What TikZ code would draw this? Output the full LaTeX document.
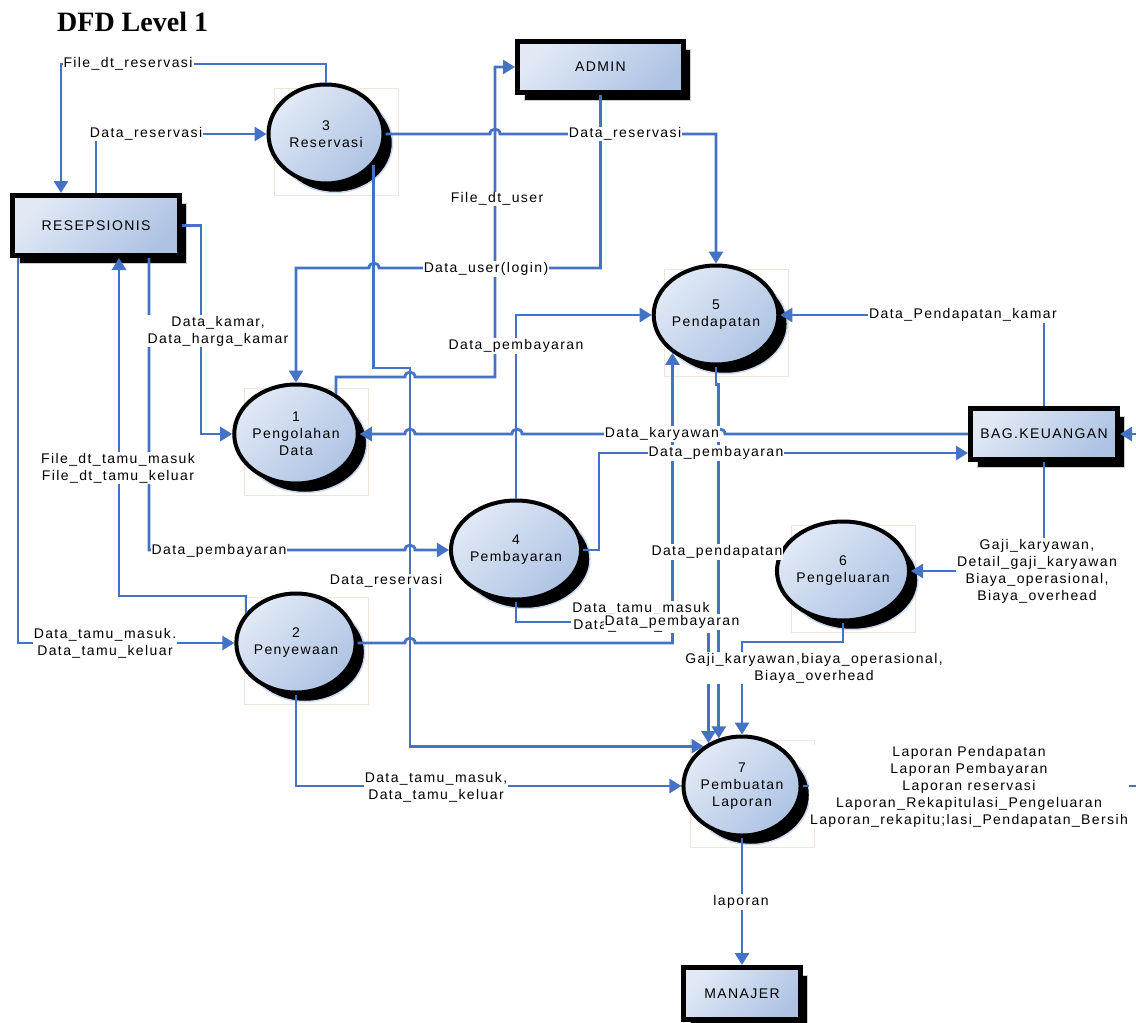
\documentclass[tikz,border=0pt]{standalone}
\usepackage{fontspec}
\setmainfont{Liberation Sans}[LetterSpace=10]
\newfontfamily\titlefont{Liberation Serif}
\usetikzlibrary{shapes.geometric,arrows.meta,shadows}
\definecolor{flow}{HTML}{4472C4}
\definecolor{fillA}{HTML}{E1E9F5}
\definecolor{fillB}{HTML}{AEC3E4}
\definecolor{halo}{HTML}{C9D8EE}
\definecolor{tanc}{HTML}{EFE6DA}
\begin{document}
\begin{tikzpicture}[x=1pt,y=-1pt,
  every node/.style={font=\fontsize{14}{17}\selectfont},
  proc/.style={ellipse, draw=black, line width=4pt, minimum width=115pt, minimum height=99pt,
    inner sep=0pt, align=center, top color=fillA, bottom color=fillB, shading angle=45,
    general shadow={fill=black, draw=halo, line width=1.5pt, shadow xshift=9pt, shadow yshift=-9pt}},
  ent/.style={rectangle, draw=black, line width=5pt, inner sep=0pt, top color=fillA,
    bottom color=fillB, shading angle=45,
    general shadow={fill=black, draw=black!20, line width=1pt, shadow xshift=7pt, shadow yshift=-8pt}},
  flowline/.style={draw=flow, line width=2.8pt, -{Triangle[length=12pt,width=14pt]}},
  lbl/.style={fill=white, inner sep=1pt, align=center},
  tanbox/.style={draw=tanc, line width=0.8pt}
]
\path[use as bounding box] (0,0) rectangle (1136,1023);
\clip (0,0) rectangle (1136,1023);

% faint frames of the process symbols
\foreach \cx/\cy in {326/134, 296/434, 296/643, 716/315, 843/571, 742/786}
  \draw[tanbox] ({\cx-52},{\cy-46}) rectangle ({\cx+72},{\cy+61});

% title
\node[font=\titlefont\bfseries\fontsize{28}{30}\selectfont, anchor=base west, inner sep=0pt] (title) at (57,31) {DFD Level 1};

% processes
\node[proc] (n3) at (326,134) {3\\Reservasi};
\node[proc] (n1) at (296,434) {1\\Pengolahan\\Data};
\node[proc] (n2) at (296,643) {2\\Penyewaan};
\node[proc] (n4) at (516,550) {4\\Pembayaran};
\node[proc] (n5) at (716,315) {5\\Pendapatan};
\node[proc] (n6) at (843,571) {6\\Pengeluaran};
\node[proc] (n7) at (742,786) {7\\Pembuatan\\Laporan};

% external entities
\node[ent, minimum width=167pt, minimum height=60pt] (R) at (96,225.5) {RESEPSIONIS};
\node[ent, minimum width=166pt, minimum height=51pt] (A) at (600.5,67) {ADMIN};
\node[ent, minimum width=147pt, minimum height=51pt] (B) at (1044,434) {BAG.KEUANGAN};
\node[ent, minimum width=117pt, minimum height=52pt] (M) at (742,993.5) {MANAJER};

% flows
\draw[flowline] (n3.north) |- (61,64) -- (61,0 |- R.north);
\draw[flowline] (96,0 |- R.north) |- (n3.west);
\draw[flowline] (n3.east) -- (490,134) .. controls (490,127.5) and (500,127.5) .. (500,134) -| (n5.north);
\draw[flowline] (n1.45) |- (405,377) .. controls (405,370.5) and (415,370.5) .. (415,377) -- (495,377) |- (A.west);
\draw[flowline] (n3.327) |- (410,368) -- (410,0 |- n7.134) -- (n7.134);
\draw[flowline] (A.south) |- (379,268) .. controls (379,261.5) and (369,261.5) .. (369,268) -| (n1.north);
\draw[flowline] (R.east) -| (201,0 |- n1.west) -- (n1.west);
\draw[flowline] (n2.149) |- (119,596) -- (119,0 |- R.south);
\draw[flowline] (149,0 |- R.south) |- (405,550) .. controls (405,543.5) and (415,543.5) .. (415,550) -- (n4.west);
\draw[flowline] (18,0 |- R.south) |- (n2.west);
\draw[flowline] (n2.south) |- (n7.west);
\draw[flowline] (n2.east) -- (405,643) .. controls (405,636.5) and (415,636.5) .. (415,643) -| (n5.221);
\draw[flowline] (n4.south) |- (n7.128 |- 0,622) -- (n7.128);
\draw[flowline] (n5.south) -- ++(0,18) -| (n7.116);
\draw[flowline] (n6.south) |- (n7.north |- 0,642) -- (n7.north);
\draw[flowline] (B.south) |- (n6.east);
\draw[flowline] (B.north) |- (n5.east);
\draw[flowline] (B.west) -- (725,434) .. controls (725,427.5) and (715,427.5) .. (715,434)
  -- (522,434) .. controls (522,427.5) and (512,427.5) .. (512,434)
  -- (415,434) .. controls (415,427.5) and (405,427.5) .. (405,434) -- (n1.east);
\draw[flowline] (n4.east) -| (599,453) -- (B.west |- 0,453);
\draw[flowline] (n4.north) |- (n5.west);
\draw[flowline] (n7.east) -- (1160,786) |- (B.east);
\draw[flowline] (n7.south) -- (M.north);

% labels
\node[lbl] (l1) at (128,64) {File\_dt\_reservasi};
\node[lbl] (l2) at (146,134) {Data\_reservasi};
\node[lbl] (l3) at (625,134) {Data\_reservasi};
\node[lbl] (l4) at (497,199) {File\_dt\_user};
\node[lbl] (l5) at (486,269) {Data\_user(login)};
\node[lbl] (l6) at (218,331) {Data\_kamar,\\Data\_harga\_kamar};
\node[lbl] (l7) at (516,346) {Data\_pembayaran};
\node[lbl] (l8) at (963,315) {Data\_Pendapatan\_kamar};
\node[lbl] (l9) at (662,434) {Data\_karyawan};
\node[lbl] (l10) at (716,453) {Data\_pembayaran};
\node[lbl] (l11) at (118,468) {File\_dt\_tamu\_masuk\\File\_dt\_tamu\_keluar};
\node[lbl] (l12) at (219,551) {Data\_pembayaran};
\node[lbl] (l13) at (717,552) {Data\_pendapatan};
\node[lbl] (l14) at (1037,571) {Gaji\_karyawan,\\Detail\_gaji\_karyawan\\Biaya\_operasional,\\Biaya\_overhead};
\node[lbl] (l15) at (386,581) {Data\_reservasi};
\node[lbl] (l16) at (641,617) {Data\_tamu\_masuk\\Data\_tamu\_keluar};
\node[lbl] (l17) at (672,622) {Data\_pembayaran};
\node[lbl] (l18) at (105,643) {Data\_tamu\_masuk.\\Data\_tamu\_keluar};
\node[lbl] (l19) at (814,668) {Gaji\_karyawan,biaya\_operasional,\\Biaya\_overhead};
\node[lbl] (l20) at (436,787) {Data\_tamu\_masuk,\\Data\_tamu\_keluar};
\node[lbl] (l21) at (969,787) {Laporan Pendapatan\\Laporan Pembayaran\\Laporan reservasi\\Laporan\_Rekapitulasi\_Pengeluaran\\Laporan\_rekapitu;lasi\_Pendapatan\_Bersih};
\node[lbl] (l22) at (741,902) {laporan};
\end{tikzpicture}
\end{document}
